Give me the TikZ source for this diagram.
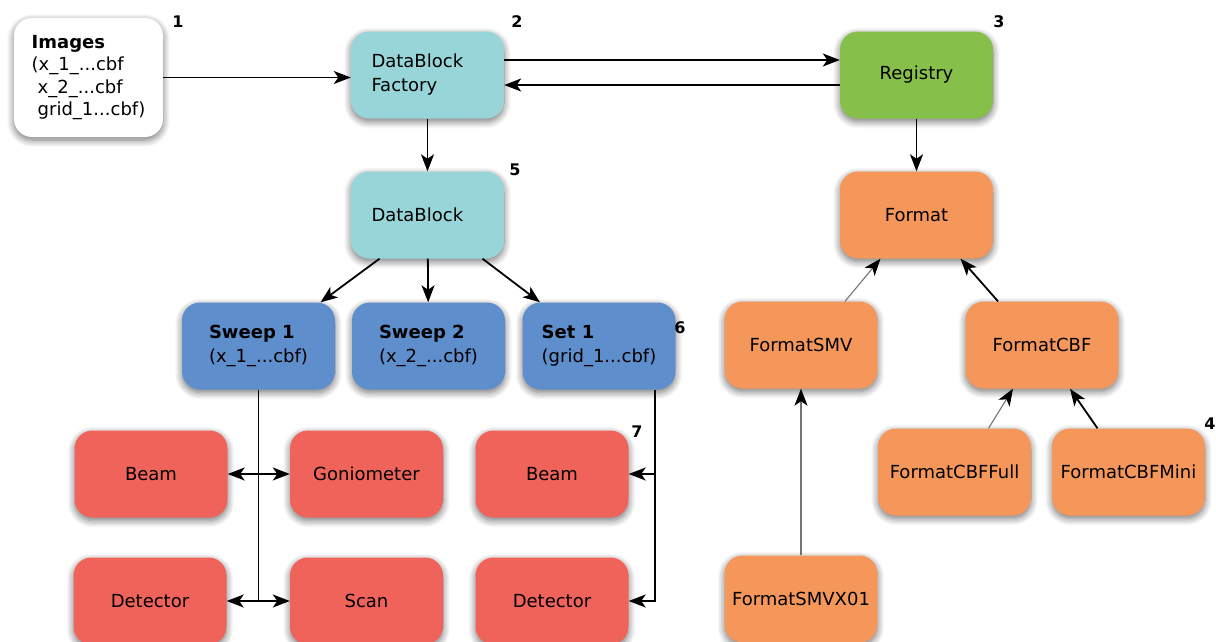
\documentclass[tikz,border=0pt]{standalone}
\usepackage{fontspec}
\setmainfont{DejaVu Sans}
\usetikzlibrary{arrows.meta,shadows.blur}
\definecolor{dbteal}{HTML}{97D5D8}
\definecolor{reggreen}{HTML}{86C04A}
\definecolor{fmtorange}{HTML}{F5975A}
\definecolor{swblue}{HTML}{5E8ECB}
\definecolor{mdlred}{HTML}{F0635A}
\begin{document}
\begin{tikzpicture}[x=1pt,y=-1pt,
    box/.style={rounded corners=18pt, minimum width=153pt, minimum height=87pt,
        align=left, font=\fontsize{18}{24}\selectfont,
        blur shadow={shadow xshift=0pt,shadow yshift=-3pt,shadow blur radius=7pt,shadow blur steps=8,shadow opacity=55}},
    num/.style={font=\bfseries\fontsize{16}{18}\selectfont},
    conn/.style={-{Stealth[length=17pt,width=13pt,inset=4.5pt]}, line width=1.8pt},
    lite/.style={-{Stealth[length=17pt,width=13pt,inset=4.5pt,color=black]}, line width=1.1pt, black!55},
    dbl/.style={{Stealth[length=17pt,width=13pt,inset=4.5pt]}-{Stealth[length=17pt,width=13pt,inset=4.5pt]}, line width=1.8pt}]
    \useasboundingbox (0,0) rectangle (1216,641);
    \clip (0,0) rectangle (1216,641);

    % inputs and factory
    \node[box,fill=white,minimum width=149pt,minimum height=119pt,font=\fontsize{18}{22.5}\selectfont] (img) at (88.5,77.5)
        {\textbf{Images}\\(x\_1\_...cbf\\\hspace{6pt}x\_2\_...cbf\\\hspace{6pt}grid\_1...cbf)};
    \node[box,fill=dbteal,text width=112pt] (dbf) at (427.5,75) {DataBlock\\Factory};
    \node[box,fill=reggreen] (reg) at (916.5,75) {Registry};
    \node[box,fill=dbteal,text width=112pt] (db) at (427.5,215) {DataBlock};
    \node[box,fill=fmtorange] (fmt) at (916.5,215) {Format};

    % sweeps
    \node[box,fill=swblue] (sw1) at (258.5,346) {\textbf{Sweep 1}\\(x\_1\_...cbf)};
    \node[box,fill=swblue] (sw2) at (428.5,346) {\textbf{Sweep 2}\\(x\_2\_...cbf)};
    \node[box,fill=swblue] (set1) at (599,346) {\textbf{Set 1}\\(grid\_1...cbf)};

    % formats
    \node[box,fill=fmtorange] (smv) at (801,345) {FormatSMV};
    \node[box,fill=fmtorange] (cbf) at (1042,345) {FormatCBF};
    \node[box,fill=fmtorange] (cbffull) at (954.5,472) {FormatCBFFull};
    \node[box,fill=fmtorange] (cbfmini) at (1128.5,472) {FormatCBFMini};
    \node[box,fill=fmtorange] (smvx) at (801,599) {FormatSMVX01};

    % models
    \node[box,fill=mdlred] (beamA) at (151,474) {Beam};
    \node[box,fill=mdlred] (gonio) at (366.5,474) {Goniometer};
    \node[box,fill=mdlred] (beamB) at (552,474) {Beam};
    \node[box,fill=mdlred] (detA) at (150,601) {Detector};
    \node[box,fill=mdlred] (scan) at (366.5,601) {Scan};
    \node[box,fill=mdlred] (detB) at (552,601) {Detector};

    % numbers
    \node[num] (n1) at (178,22) {1};
    \node[num] (n2) at (517,22) {2};
    \node[num] (n3) at (999,22) {3};
    \node[num] (n4) at (1210,424) {4};
    \node[num] (n5) at (515,170) {5};
    \node[num] (n6) at (680,328) {6};
    \node[num] (n7) at (637,432) {7};

    % connectors
    \draw[conn] (img.east) -- (img.east -| dbf.west);
    \draw[conn] ([yshift=15pt]dbf.east) -- ([yshift=15pt]reg.west);
    \draw[conn] ([yshift=-10pt]reg.west) -- ([yshift=-10pt]dbf.east);
    \draw[conn] (dbf) -- (db);
    \draw[conn] (reg) -- (fmt);
    \draw[conn] ([xshift=-48pt]db.south) -- ([xshift=62pt]sw1.north);
    \draw[conn] (db) -- (sw2);
    \draw[conn] ([xshift=55pt]db.south) -- ([xshift=-59pt]set1.north);

    \draw[line width=1.8pt] (sw1.south) -- (sw1.south |- scan);
    \draw[dbl] (beamA) -- (gonio);
    \draw[dbl] (detA) -- (scan);
    \coordinate (setbus) at ([xshift=-21pt]set1.south east);
    \draw[conn] (setbus) |- (detB.east);
    \draw[conn] (setbus |- beamB) -- (beamB.east);

    \draw[lite] ([xshift=44pt]smv.north) -- ([xshift=-36pt]fmt.south);
    \draw[conn] ([xshift=-44pt]cbf.north) -- ([xshift=44pt]fmt.south);
    \draw[lite] ([xshift=34pt]cbffull.north) -- ([xshift=-29pt]cbf.south);
    \draw[conn] ([xshift=-31pt]cbfmini.north) -- ([xshift=28pt]cbf.south);
    \draw[lite] (smvx) -- (smv);
\end{tikzpicture}
\end{document}
